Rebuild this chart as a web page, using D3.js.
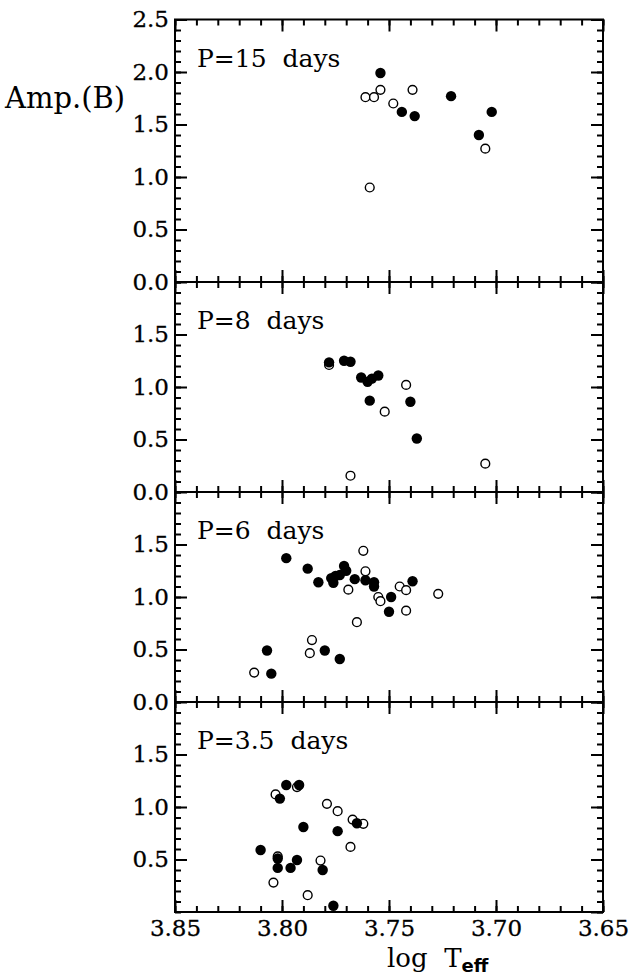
<!DOCTYPE html>
<html lang="en">

<head>
    <meta charset="utf-8">
    <title>Amp.(B) vs log Teff</title>
    <script src="https://d3js.org/d3.v7.min.js"></script>
    <style>
        body { margin: 0; background: #fff; }
        text { font-family: "DejaVu Serif", serif; fill: #000; }
    </style>
</head>

<body>
    <svg width="634" height="976"></svg>

    <script>
        // [log Teff, Amp.(B)]
        const p15Filled = [[3.754, 1.99], [3.744, 1.62], [3.738, 1.58], [3.721, 1.77], [3.708, 1.40], [3.702, 1.62]];
        const p15Open = [[3.761, 1.76], [3.757, 1.76], [3.754, 1.83], [3.748, 1.70], [3.739, 1.83], [3.759, 0.90], [3.705, 1.27]];

        const p8Filled = [[3.778, 1.235], [3.771, 1.25], [3.768, 1.24], [3.763, 1.09], [3.760, 1.05], [3.758, 1.08],
            [3.755, 1.11], [3.759, 0.87], [3.740, 0.86], [3.737, 0.51]];
        const p8Open = [[3.778, 1.21], [3.742, 1.02], [3.752, 0.765], [3.768, 0.155], [3.705, 0.27]];

        const p6Filled = [[3.798, 1.37], [3.788, 1.27], [3.783, 1.14], [3.777, 1.18], [3.776, 1.135], [3.775, 1.20],
            [3.773, 1.21], [3.771, 1.295], [3.770, 1.25], [3.766, 1.17], [3.761, 1.16], [3.757, 1.14], [3.757, 1.10],
            [3.749, 1.00], [3.750, 0.86], [3.739, 1.15], [3.807, 0.49], [3.805, 0.27], [3.780, 0.49], [3.773, 0.41]];
        const p6Open = [[3.762, 1.44], [3.761, 1.245], [3.769, 1.07], [3.755, 1.00], [3.754, 0.96], [3.745, 1.10],
            [3.742, 1.065], [3.742, 0.87], [3.727, 1.03], [3.765, 0.76], [3.786, 0.59], [3.787, 0.465], [3.813, 0.28]];

        const p35Filled = [[3.798, 1.21], [3.792, 1.21], [3.801, 1.08], [3.790, 0.81], [3.810, 0.59], [3.802, 0.51],
            [3.802, 0.42], [3.796, 0.42], [3.793, 0.495], [3.774, 0.77], [3.765, 0.845], [3.781, 0.40], [3.776, 0.06]];
        const p35Open = [[3.803, 1.12], [3.793, 1.19], [3.802, 0.53], [3.779, 1.03], [3.774, 0.96], [3.767, 0.88],
            [3.762, 0.84], [3.768, 0.62], [3.782, 0.49], [3.804, 0.28], [3.788, 0.16]];

        const panelLabels = ["P=15  days", "P=8  days", "P=6  days", "P=3.5  days"];
        const panelMax = [2.5, 2, 2, 2];
        const panelYTicks = [[0, 0.5, 1, 1.5, 2, 2.5], [0, 0.5, 1, 1.5], [0, 0.5, 1, 1.5], [0.5, 1, 1.5]];
        const xTicks = [3.85, 3.80, 3.75, 3.70, 3.65];

        const panels = [
            { filled: p15Filled, open: p15Open },
            { filled: p8Filled, open: p8Open },
            { filled: p6Filled, open: p6Open },
            { filled: p35Filled, open: p35Open }
        ];

        const svg = d3.select("svg");
        const left = 175, right = 603;
        const unit = 105;            // px per 1.0 of amplitude
        const bottom0 = 282;         // baseline of the top panel

        const x = d3.scaleLinear().domain([3.85, 3.65]).range([left, right]);
        const xMinor = d3.range(3.65, 3.8501, 0.01).map(v => +v.toFixed(2));

        let bottomY = bottom0;
        panels.forEach((p, i) => {
            const h = panelMax[i] * unit;
            const y = d3.scaleLinear().domain([0, panelMax[i]]).range([bottomY, bottomY - h]);
            const yMinor = d3.range(0, panelMax[i] + 0.001, 0.1).map(v => +v.toFixed(1));
            const g = svg.append("g");

            // minor ticks
            g.append("g").attr("transform", `translate(${left},0)`)
                .call(d3.axisLeft(y).tickValues(yMinor).tickSize(-6).tickFormat(""));
            g.append("g").attr("transform", `translate(${right},0)`)
                .call(d3.axisRight(y).tickValues(yMinor).tickSize(-6).tickFormat(""));
            g.append("g").attr("transform", `translate(0,${bottomY})`)
                .call(d3.axisBottom(x).tickValues(xMinor).tickSize(-6).tickFormat(""));
            g.append("g").attr("transform", `translate(0,${bottomY - h})`)
                .call(d3.axisTop(x).tickValues(xMinor).tickSize(-6).tickFormat(""));

            // major ticks
            g.append("g").attr("class", "ylab").attr("transform", `translate(${left},0)`)
                .call(d3.axisLeft(y).tickValues(panelYTicks[i]).tickSize(-12).tickPadding(6).tickFormat(d3.format(".1f")));
            g.append("g").attr("transform", `translate(${right},0)`)
                .call(d3.axisRight(y).tickValues(d3.range(0, panelMax[i] + 0.01, 0.5)).tickSize(-12).tickFormat(""));
            g.append("g").attr("class", "xlab").attr("transform", `translate(0,${bottomY})`)
                .call(d3.axisBottom(x).tickValues(xTicks).tickSize(-12).tickPadding(8)
                    .tickFormat(i === 3 ? d3.format(".2f") : ""));
            g.append("g").attr("transform", `translate(0,${bottomY - h})`)
                .call(d3.axisTop(x).tickValues(xTicks).tickSize(-12).tickFormat(""));

            g.selectAll(".domain").remove();
            g.selectAll(".tick line").attr("stroke", "#000").attr("stroke-width", 2);
            g.selectAll(".ylab text, .xlab text")
                .style("font-family", "DejaVu Serif").style("font-size", "23px")
                .attr("fill", "#000").attr("stroke", "#000").attr("stroke-width", 0.3);

            // frame
            g.append("rect")
                .attr("x", left).attr("y", bottomY - h)
                .attr("width", right - left).attr("height", h)
                .attr("fill", "none").attr("stroke", "#000").attr("stroke-width", 2);

            g.append("text")
                .attr("x", 197).attr("y", bottomY - h + 47)
                .style("font-size", "25px")
                .style("white-space", "pre")
                .text(panelLabels[i]);

            g.append("g").selectAll("circle")
                .data(p.open)
                .join("circle")
                .attr("cx", d => x(d[0]))
                .attr("cy", d => y(d[1]))
                .attr("r", 4.4)
                .attr("fill", "#fff")
                .attr("stroke", "#000")
                .attr("stroke-width", 1.4);

            g.append("g").selectAll("circle")
                .data(p.filled)
                .join("circle")
                .attr("cx", d => x(d[0]))
                .attr("cy", d => y(d[1]))
                .attr("r", 5.2)
                .attr("fill", "#000");

            bottomY += (panelMax[i + 1] || 0) * unit;
        });

        svg.append("text")
            .attr("x", 5).attr("y", 108)
            .style("font-size", "29px")
            .text("Amp.(B)");

        const xt = svg.append("text")
            .attr("x", 387).attr("y", 967)
            .style("font-size", "26px")
            .style("white-space", "pre");
        xt.append("tspan").text("log  T");
        xt.append("tspan")
            .attr("dy", 5)
            .style("font-family", "DejaVu Sans")
            .style("font-weight", "bold")
            .style("font-size", "18px")
            .text("eff");
    </script>
</body>

</html>
